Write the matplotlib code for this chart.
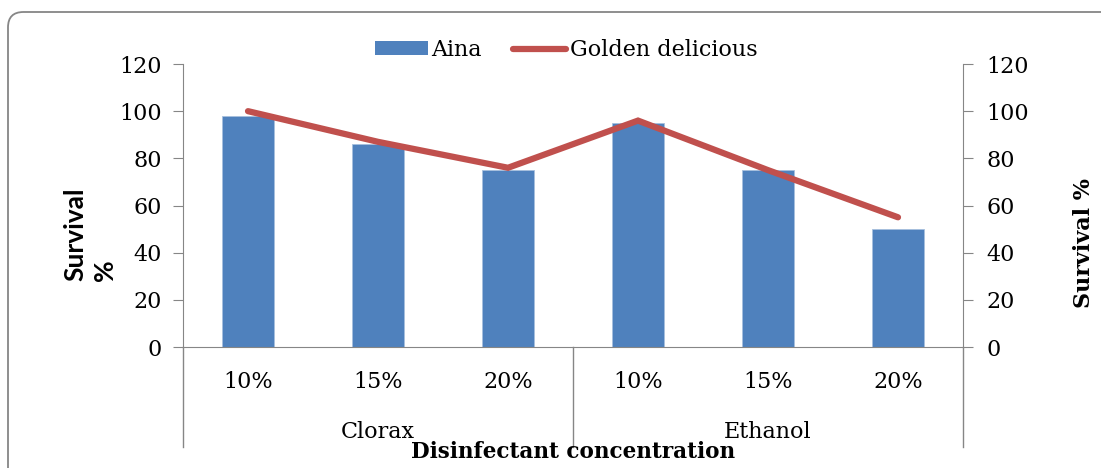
import matplotlib
matplotlib.use("Agg")
import matplotlib.pyplot as plt
from matplotlib.patches import FancyBboxPatch, Patch
from matplotlib.lines import Line2D
import matplotlib.transforms as mtransforms

concentrations = ["10%", "15%", "20%", "10%", "15%", "20%"]
disinfectants = ["Clorax", "Ethanol"]
aina = [98, 86, 75, 95, 75, 50]
golden_delicious = [100, 87, 76, 96, 75, 55]

BAR_BLUE = "#4F81BD"
LINE_RED = "#C0504D"
AXIS_GREY = "#868686"
FONT = "DejaVu Serif"
SIZE = 16

W, H = 1101, 468
fig = plt.figure(figsize=(W / 100, H / 100), dpi=100)

# chart area border, rounded and running off the right/bottom edges
frame = FancyBboxPatch((8 / W, -0.2), 1.2, 1 - 12 / H + 0.2,
                       boxstyle="round,pad=0,rounding_size=0.014",
                       transform=fig.transFigure, facecolor="white",
                       edgecolor=AXIS_GREY, linewidth=1.3, mutation_aspect=W / H,
                       zorder=-10)
fig.add_artist(frame)

ax = fig.add_axes([183 / W, 1 - 347 / H, (963 - 183) / W, (347 - 64) / H])
ax.set_facecolor("none")
x = list(range(len(aina)))
ax.bar(x, aina, width=0.4, color=BAR_BLUE, edgecolor="#A7C0DE", linewidth=0.6, zorder=2)
ax.set_xlim(-0.5, len(aina) - 0.5)
ax.set_ylim(0, 120)
ax.set_yticks(range(0, 121, 20))

ax2 = ax.twinx()
ax2.plot(x, golden_delicious, color=LINE_RED, linewidth=4.5, solid_capstyle="round",
         solid_joinstyle="miter", zorder=3)
ax2.set_ylim(0, 120)
ax2.set_yticks(range(0, 121, 20))

for a in (ax, ax2):
    for s in a.spines.values():
        s.set_visible(False)
ax.spines["left"].set_visible(True)
ax.spines["left"].set_color(AXIS_GREY)
ax.spines["bottom"].set_visible(True)
ax.spines["bottom"].set_color(AXIS_GREY)
ax2.spines["right"].set_visible(True)
ax2.spines["right"].set_color(AXIS_GREY)

ax.tick_params(axis="y", direction="out", length=7, color=AXIS_GREY, pad=8,
               labelsize=SIZE)
ax2.tick_params(axis="y", direction="out", length=7, color=AXIS_GREY, pad=10,
                labelsize=SIZE)
for lab in ax.get_yticklabels() + ax2.get_yticklabels():
    lab.set_fontfamily(FONT)

# two-level category axis
ax.set_xticks(x)
ax.set_xticklabels(concentrations, fontsize=SIZE, fontfamily=FONT)
ax.tick_params(axis="x", length=0, pad=17)

trans = mtransforms.blended_transform_factory(ax.transData, ax.transAxes)
drop = (447 - 347) / (347 - 64)
for xs in (-0.5, 2.5, 5.5):
    ax.add_line(Line2D([xs, xs], [0, -drop], transform=trans, color=AXIS_GREY,
                       linewidth=1.0, clip_on=False))
for i, name in enumerate(disinfectants):
    ax.text(1 + 3 * i, -(432 - 347) / (347 - 64), name, transform=trans,
            ha="center", va="center", fontsize=SIZE, fontfamily=FONT)

fig.text(573 / W, 1 - 452 / H, "Disinfectant concentration", ha="center", va="center",
         fontsize=15.5, fontweight="bold", fontfamily=FONT)
fig.text(90 / W, 1 - 281 / H, "Survival\n%", rotation=90, ha="center", va="bottom",
         multialignment="left", fontsize=19, fontweight="bold", fontfamily="Lato",
         linespacing=1.3)
fig.text(1084 / W, 1 - 243 / H, "Survival %", rotation=90, ha="center", va="center",
         fontsize=SIZE, fontweight="bold", fontfamily=FONT)

handles = [Patch(facecolor=BAR_BLUE, edgecolor="none"),
           Line2D([0], [0], color=LINE_RED, linewidth=4.5, solid_capstyle="round")]
fig.legend(handles, ["Aina", "Golden delicious"], loc="center",
           bbox_to_anchor=(566 / W, 1 - 50 / H), ncol=2, frameon=False,
           prop={"family": FONT, "size": SIZE}, handlelength=2.4, handleheight=0.6,
           handletextpad=0.15, columnspacing=1.4)

fig.savefig("out.png", dpi=100)
